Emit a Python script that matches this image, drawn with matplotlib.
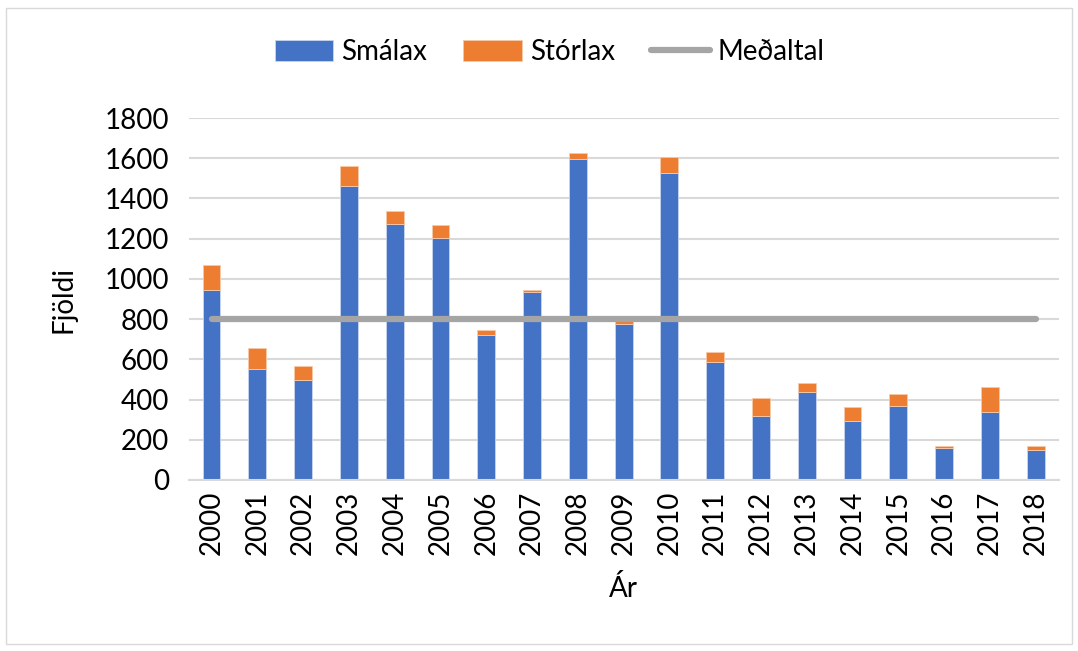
import numpy as np
import matplotlib.pyplot as plt
from matplotlib.patches import Rectangle

plt.rcParams['font.family'] = ['Lato', 'DejaVu Sans']

ar = [str(y) for y in range(2000, 2019)]
smalax = [944, 552, 498, 1460, 1271, 1202, 721, 934, 1594, 777, 1529, 588, 318, 438, 293, 370, 161, 338, 149]
storlax = [124, 103, 67, 102, 66, 68, 23, 13, 34, 13, 78, 47, 89, 44, 68, 56, 9, 123, 21]
medaltal = [800] * len(ar)

fig = plt.figure(figsize=(10.78, 6.51), dpi=100)
ax = fig.add_axes([0.175, 0.2627, 0.807, 0.556])

x = np.arange(len(ar))
b1 = ax.bar(x, smalax, width=0.39, color='#4472C4', edgecolor='#c9d6ee', linewidth=0.6, label='Smálax', zorder=2)
b2 = ax.bar(x, storlax, width=0.39, bottom=smalax, color='#ED7D31', edgecolor='#f7c9a8', linewidth=0.6, label='Stórlax', zorder=2)
l1, = ax.plot(x, medaltal, color='#A5A5A5', linewidth=4.5, solid_capstyle='round', label='Meðaltal', zorder=3)

ax.set_xlim(-0.5, len(ar) - 0.5)
ax.set_ylim(0, 1800)
ax.set_yticks(range(0, 1801, 200))
ax.set_xticks(x)
ax.set_xticklabels(ar, rotation=90)
ax.tick_params(axis='both', labelsize=20, length=0, colors='black')
ax.tick_params(axis='x', pad=8)
ax.tick_params(axis='y', pad=14)
ax.grid(axis='y', color='#d9d9d9', linewidth=1.5, zorder=0)
for s in ['top', 'right', 'left']:
    ax.spines[s].set_visible(False)
ax.spines['bottom'].set_color('#d9d9d9')
ax.spines['bottom'].set_linewidth(1.5)

ax.set_ylabel('Fjöldi', fontsize=20, labelpad=20)
ax.set_xlabel('Ár', fontsize=20, labelpad=14)

fig.legend(handles=[b1, b2, l1], loc='center', bbox_to_anchor=(0.51, 0.92), ncol=3, frameon=False, fontsize=20,
           handlelength=2.1, handleheight=0.75, columnspacing=1.3, handletextpad=0.3)

fig.patches.append(Rectangle((0.006, 0.01), 0.988, 0.978, transform=fig.transFigure,
                             fill=False, edgecolor='#d9d9d9', linewidth=1))

fig.savefig('out.png', dpi=100)
